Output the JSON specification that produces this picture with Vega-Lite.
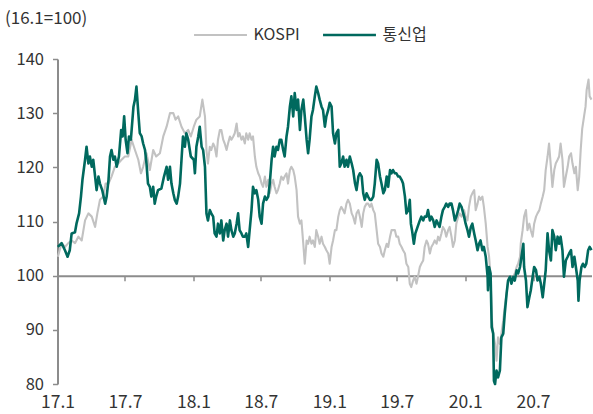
{
  "$schema": "https://vega.github.io/schema/vega-lite/v6.json",
  "width": 534,
  "height": 325,
  "autosize": {"type": "none"},
  "padding": {"left": 57.5, "top": 59, "right": 1.5, "bottom": 30},
  "background": "white",
  "config": {
    "view": {"stroke": null},
    "font": "Noto Sans CJK KR",
    "axis": {"grid": false, "labelFont": "Noto Sans CJK KR", "titleFont": "Noto Sans CJK KR"},
    "legend": {"labelFont": "Noto Sans CJK KR"}
  },
  "data": {
    "values": [
      {"d":"2017-01-02","s":"KOSPI","v":103.5},{"d":"2017-01-12","s":"KOSPI","v":106},{"d":"2017-01-21","s":"KOSPI","v":105.3},{"d":"2017-01-30","s":"KOSPI","v":106},{"d":"2017-02-08","s":"KOSPI","v":106.5},{"d":"2017-02-17","s":"KOSPI","v":106},{"d":"2017-02-26","s":"KOSPI","v":107.2},{"d":"2017-03-07","s":"KOSPI","v":106.5},{"d":"2017-03-16","s":"KOSPI","v":110.2},{"d":"2017-03-25","s":"KOSPI","v":111.5},{"d":"2017-04-03","s":"KOSPI","v":110.9},{"d":"2017-04-12","s":"KOSPI","v":109},{"d":"2017-04-18","s":"KOSPI","v":111.5},{"d":"2017-04-25","s":"KOSPI","v":114},{"d":"2017-05-04","s":"KOSPI","v":114.6},{"d":"2017-05-10","s":"KOSPI","v":117},{"d":"2017-05-18","s":"KOSPI","v":117},{"d":"2017-05-26","s":"KOSPI","v":118.3},{"d":"2017-06-04","s":"KOSPI","v":120.1},{"d":"2017-06-13","s":"KOSPI","v":120.7},{"d":"2017-06-22","s":"KOSPI","v":121.4},{"d":"2017-07-01","s":"KOSPI","v":122},{"d":"2017-07-10","s":"KOSPI","v":122},{"d":"2017-07-19","s":"KOSPI","v":125.1},{"d":"2017-07-28","s":"KOSPI","v":123.2},{"d":"2017-08-06","s":"KOSPI","v":121.4},{"d":"2017-08-13","s":"KOSPI","v":118.9},{"d":"2017-08-19","s":"KOSPI","v":120.1},{"d":"2017-08-28","s":"KOSPI","v":122.6},{"d":"2017-09-06","s":"KOSPI","v":119.5},{"d":"2017-09-15","s":"KOSPI","v":123.2},{"d":"2017-09-23","s":"KOSPI","v":122},{"d":"2017-10-03","s":"KOSPI","v":122.6},{"d":"2017-10-12","s":"KOSPI","v":125.7},{"d":"2017-10-21","s":"KOSPI","v":127.5},{"d":"2017-10-30","s":"KOSPI","v":130},{"d":"2017-11-08","s":"KOSPI","v":130},{"d":"2017-11-14","s":"KOSPI","v":128.8},{"d":"2017-11-21","s":"KOSPI","v":129.4},{"d":"2017-11-30","s":"KOSPI","v":127.5},{"d":"2017-12-09","s":"KOSPI","v":126.3},{"d":"2017-12-18","s":"KOSPI","v":126.9},{"d":"2017-12-25","s":"KOSPI","v":125.7},
      {"d":"2018-01-02","s":"KOSPI","v":127.5},{"d":"2018-01-09","s":"KOSPI","v":128.8},{"d":"2018-01-18","s":"KOSPI","v":129.4},{"d":"2018-01-25","s":"KOSPI","v":132.5},{"d":"2018-02-01","s":"KOSPI","v":129.4},{"d":"2018-02-05","s":"KOSPI","v":123.2},{"d":"2018-02-09","s":"KOSPI","v":120.7},{"d":"2018-02-14","s":"KOSPI","v":123.8},{"d":"2018-02-18","s":"KOSPI","v":123.2},{"d":"2018-02-23","s":"KOSPI","v":124.4},{"d":"2018-02-27","s":"KOSPI","v":123.8},{"d":"2018-03-04","s":"KOSPI","v":122},{"d":"2018-03-08","s":"KOSPI","v":125.1},{"d":"2018-03-13","s":"KOSPI","v":126.9},{"d":"2018-03-17","s":"KOSPI","v":126.9},{"d":"2018-03-22","s":"KOSPI","v":125.1},{"d":"2018-03-26","s":"KOSPI","v":124.4},{"d":"2018-03-31","s":"KOSPI","v":123.2},{"d":"2018-04-04","s":"KOSPI","v":124.4},{"d":"2018-04-09","s":"KOSPI","v":125.7},{"d":"2018-04-13","s":"KOSPI","v":125.1},{"d":"2018-04-18","s":"KOSPI","v":125.7},{"d":"2018-04-22","s":"KOSPI","v":126.3},{"d":"2018-04-27","s":"KOSPI","v":128.1},{"d":"2018-05-01","s":"KOSPI","v":125.7},{"d":"2018-05-05","s":"KOSPI","v":126.3},{"d":"2018-05-10","s":"KOSPI","v":125.1},{"d":"2018-05-14","s":"KOSPI","v":125.7},{"d":"2018-05-19","s":"KOSPI","v":124.4},{"d":"2018-05-23","s":"KOSPI","v":126.3},{"d":"2018-05-28","s":"KOSPI","v":125.1},{"d":"2018-06-01","s":"KOSPI","v":126.3},{"d":"2018-06-06","s":"KOSPI","v":125.1},{"d":"2018-06-10","s":"KOSPI","v":125.7},{"d":"2018-06-15","s":"KOSPI","v":122},{"d":"2018-06-19","s":"KOSPI","v":120.1},{"d":"2018-06-24","s":"KOSPI","v":118.9},{"d":"2018-06-28","s":"KOSPI","v":118.3},{"d":"2018-07-03","s":"KOSPI","v":117},{"d":"2018-07-07","s":"KOSPI","v":116.4},{"d":"2018-07-12","s":"KOSPI","v":118.3},{"d":"2018-07-16","s":"KOSPI","v":116.4},{"d":"2018-07-21","s":"KOSPI","v":117.7},{"d":"2018-07-25","s":"KOSPI","v":115.2},{"d":"2018-07-30","s":"KOSPI","v":117},{"d":"2018-08-03","s":"KOSPI","v":117.7},{"d":"2018-08-07","s":"KOSPI","v":116.4},{"d":"2018-08-12","s":"KOSPI","v":115.2},{"d":"2018-08-16","s":"KOSPI","v":115.8},{"d":"2018-08-21","s":"KOSPI","v":117},{"d":"2018-08-25","s":"KOSPI","v":118.3},{"d":"2018-08-30","s":"KOSPI","v":117.7},{"d":"2018-09-03","s":"KOSPI","v":118.3},{"d":"2018-09-08","s":"KOSPI","v":118.9},{"d":"2018-09-12","s":"KOSPI","v":117},{"d":"2018-09-17","s":"KOSPI","v":119.5},{"d":"2018-09-21","s":"KOSPI","v":120.1},{"d":"2018-09-26","s":"KOSPI","v":119.5},{"d":"2018-09-30","s":"KOSPI","v":118.3},{"d":"2018-10-05","s":"KOSPI","v":115.8},{"d":"2018-10-09","s":"KOSPI","v":110.9},{"d":"2018-10-14","s":"KOSPI","v":109.6},{"d":"2018-10-18","s":"KOSPI","v":110.2},{"d":"2018-10-23","s":"KOSPI","v":105.9},{"d":"2018-10-27","s":"KOSPI","v":102.2},{"d":"2018-11-01","s":"KOSPI","v":106.5},{"d":"2018-11-05","s":"KOSPI","v":105.9},{"d":"2018-11-09","s":"KOSPI","v":107.2},{"d":"2018-11-14","s":"KOSPI","v":105.9},{"d":"2018-11-18","s":"KOSPI","v":106.5},{"d":"2018-11-23","s":"KOSPI","v":105.3},{"d":"2018-11-27","s":"KOSPI","v":108.4},{"d":"2018-12-02","s":"KOSPI","v":107.2},{"d":"2018-12-06","s":"KOSPI","v":105.9},{"d":"2018-12-11","s":"KOSPI","v":107.2},{"d":"2018-12-15","s":"KOSPI","v":105.9},{"d":"2018-12-20","s":"KOSPI","v":105.3},{"d":"2018-12-24","s":"KOSPI","v":104.7},
      {"d":"2018-12-29","s":"KOSPI","v":104.1},{"d":"2019-01-02","s":"KOSPI","v":102.2},{"d":"2019-01-07","s":"KOSPI","v":105.3},{"d":"2019-01-11","s":"KOSPI","v":106.5},{"d":"2019-01-16","s":"KOSPI","v":108.4},{"d":"2019-01-20","s":"KOSPI","v":108.4},{"d":"2019-01-25","s":"KOSPI","v":110.9},{"d":"2019-01-29","s":"KOSPI","v":112.1},{"d":"2019-02-02","s":"KOSPI","v":112.7},{"d":"2019-02-07","s":"KOSPI","v":112.1},{"d":"2019-02-11","s":"KOSPI","v":111.5},{"d":"2019-02-16","s":"KOSPI","v":113.3},{"d":"2019-02-20","s":"KOSPI","v":114},{"d":"2019-02-25","s":"KOSPI","v":113.3},{"d":"2019-03-02","s":"KOSPI","v":111.5},{"d":"2019-03-06","s":"KOSPI","v":110.9},{"d":"2019-03-11","s":"KOSPI","v":109.6},{"d":"2019-03-15","s":"KOSPI","v":111.5},{"d":"2019-03-20","s":"KOSPI","v":112.1},{"d":"2019-03-24","s":"KOSPI","v":110.9},{"d":"2019-03-29","s":"KOSPI","v":109},{"d":"2019-04-02","s":"KOSPI","v":111.5},{"d":"2019-04-06","s":"KOSPI","v":112.7},{"d":"2019-04-11","s":"KOSPI","v":113.3},{"d":"2019-04-15","s":"KOSPI","v":113.3},{"d":"2019-04-20","s":"KOSPI","v":112.7},{"d":"2019-04-24","s":"KOSPI","v":113.3},{"d":"2019-04-29","s":"KOSPI","v":112.1},{"d":"2019-05-03","s":"KOSPI","v":111.5},{"d":"2019-05-08","s":"KOSPI","v":108.4},{"d":"2019-05-12","s":"KOSPI","v":105.9},{"d":"2019-05-17","s":"KOSPI","v":105.3},{"d":"2019-05-21","s":"KOSPI","v":104.1},{"d":"2019-05-26","s":"KOSPI","v":103.5},{"d":"2019-05-30","s":"KOSPI","v":104.7},{"d":"2019-06-04","s":"KOSPI","v":105.9},{"d":"2019-06-08","s":"KOSPI","v":105.3},{"d":"2019-06-13","s":"KOSPI","v":107.2},{"d":"2019-06-17","s":"KOSPI","v":108.4},{"d":"2019-06-21","s":"KOSPI","v":108.4},{"d":"2019-06-26","s":"KOSPI","v":108.4},{"d":"2019-06-30","s":"KOSPI","v":107.2},{"d":"2019-07-05","s":"KOSPI","v":107.2},{"d":"2019-07-09","s":"KOSPI","v":105.9},{"d":"2019-07-14","s":"KOSPI","v":105.3},{"d":"2019-07-18","s":"KOSPI","v":104.7},{"d":"2019-07-23","s":"KOSPI","v":104.1},{"d":"2019-07-27","s":"KOSPI","v":102.2},{"d":"2019-08-01","s":"KOSPI","v":101.6},{"d":"2019-08-05","s":"KOSPI","v":98.5},{"d":"2019-08-09","s":"KOSPI","v":97.9},{"d":"2019-08-14","s":"KOSPI","v":99.1},{"d":"2019-08-18","s":"KOSPI","v":99.8},{"d":"2019-08-23","s":"KOSPI","v":98.5},{"d":"2019-08-27","s":"KOSPI","v":99.8},{"d":"2019-09-01","s":"KOSPI","v":101.6},{"d":"2019-09-05","s":"KOSPI","v":102.2},{"d":"2019-09-10","s":"KOSPI","v":102.8},{"d":"2019-09-14","s":"KOSPI","v":105.3},{"d":"2019-09-19","s":"KOSPI","v":106.5},{"d":"2019-09-23","s":"KOSPI","v":105.9},{"d":"2019-09-28","s":"KOSPI","v":104.1},{"d":"2019-10-02","s":"KOSPI","v":105.3},{"d":"2019-10-07","s":"KOSPI","v":105.9},{"d":"2019-10-11","s":"KOSPI","v":106.5},{"d":"2019-10-16","s":"KOSPI","v":105.9},{"d":"2019-10-20","s":"KOSPI","v":107.2},{"d":"2019-10-24","s":"KOSPI","v":106.5},{"d":"2019-10-29","s":"KOSPI","v":107.8},{"d":"2019-11-02","s":"KOSPI","v":109},{"d":"2019-11-07","s":"KOSPI","v":108.4},{"d":"2019-11-11","s":"KOSPI","v":107.2},{"d":"2019-11-16","s":"KOSPI","v":108.4},{"d":"2019-11-20","s":"KOSPI","v":109},{"d":"2019-11-25","s":"KOSPI","v":107.2},{"d":"2019-11-29","s":"KOSPI","v":105.3},{"d":"2019-12-04","s":"KOSPI","v":106.5},{"d":"2019-12-08","s":"KOSPI","v":109.6},{"d":"2019-12-13","s":"KOSPI","v":110.9},{"d":"2019-12-17","s":"KOSPI","v":111.5},{"d":"2019-12-22","s":"KOSPI","v":110.9},
      {"d":"2019-12-29","s":"KOSPI","v":112.1},{"d":"2020-01-02","s":"KOSPI","v":110.9},{"d":"2020-01-07","s":"KOSPI","v":110.2},{"d":"2020-01-11","s":"KOSPI","v":112.7},{"d":"2020-01-16","s":"KOSPI","v":114.6},{"d":"2020-01-20","s":"KOSPI","v":115.2},{"d":"2020-01-25","s":"KOSPI","v":115.8},{"d":"2020-01-29","s":"KOSPI","v":112.1},{"d":"2020-02-03","s":"KOSPI","v":113.3},{"d":"2020-02-07","s":"KOSPI","v":114.6},{"d":"2020-02-11","s":"KOSPI","v":114},{"d":"2020-02-16","s":"KOSPI","v":114.6},{"d":"2020-02-20","s":"KOSPI","v":112.7},{"d":"2020-02-25","s":"KOSPI","v":109.6},{"d":"2020-03-01","s":"KOSPI","v":105.3},{"d":"2020-03-05","s":"KOSPI","v":103.5},{"d":"2020-03-09","s":"KOSPI","v":99.8},{"d":"2020-03-12","s":"KOSPI","v":92.3},{"d":"2020-03-16","s":"KOSPI","v":89.3},{"d":"2020-03-21","s":"KOSPI","v":87.4},{"d":"2020-03-25","s":"KOSPI","v":84.3},{"d":"2020-03-29","s":"KOSPI","v":88.6},{"d":"2020-04-03","s":"KOSPI","v":87.4},{"d":"2020-04-07","s":"KOSPI","v":89.3},{"d":"2020-04-12","s":"KOSPI","v":91.7},{"d":"2020-04-16","s":"KOSPI","v":94.2},{"d":"2020-04-21","s":"KOSPI","v":96.7},{"d":"2020-04-25","s":"KOSPI","v":99.1},{"d":"2020-04-30","s":"KOSPI","v":99.8},{"d":"2020-05-04","s":"KOSPI","v":99.1},{"d":"2020-05-09","s":"KOSPI","v":99.8},{"d":"2020-05-13","s":"KOSPI","v":100.4},{"d":"2020-05-18","s":"KOSPI","v":101.6},{"d":"2020-05-22","s":"KOSPI","v":102.2},{"d":"2020-05-27","s":"KOSPI","v":103.5},{"d":"2020-05-29","s":"KOSPI","v":105.9},{"d":"2020-06-03","s":"KOSPI","v":108.4},{"d":"2020-06-07","s":"KOSPI","v":110.9},{"d":"2020-06-12","s":"KOSPI","v":112.1},{"d":"2020-06-16","s":"KOSPI","v":108.4},{"d":"2020-06-21","s":"KOSPI","v":109.6},{"d":"2020-06-25","s":"KOSPI","v":108.4},{"d":"2020-06-30","s":"KOSPI","v":107.2},{"d":"2020-07-04","s":"KOSPI","v":109.6},{"d":"2020-07-09","s":"KOSPI","v":110.9},{"d":"2020-07-13","s":"KOSPI","v":111.5},{"d":"2020-07-18","s":"KOSPI","v":112.1},{"d":"2020-07-22","s":"KOSPI","v":113.3},{"d":"2020-07-27","s":"KOSPI","v":114.6},{"d":"2020-07-31","s":"KOSPI","v":115.8},{"d":"2020-08-04","s":"KOSPI","v":119.5},{"d":"2020-08-09","s":"KOSPI","v":122},{"d":"2020-08-13","s":"KOSPI","v":124.4},{"d":"2020-08-18","s":"KOSPI","v":120.1},{"d":"2020-08-22","s":"KOSPI","v":116.4},{"d":"2020-08-27","s":"KOSPI","v":119.5},{"d":"2020-08-31","s":"KOSPI","v":120.7},{"d":"2020-09-05","s":"KOSPI","v":121.4},{"d":"2020-09-09","s":"KOSPI","v":122},{"d":"2020-09-13","s":"KOSPI","v":124.4},{"d":"2020-09-18","s":"KOSPI","v":121.4},{"d":"2020-09-22","s":"KOSPI","v":116.4},{"d":"2020-09-27","s":"KOSPI","v":118.3},{"d":"2020-10-02","s":"KOSPI","v":120.1},{"d":"2020-10-06","s":"KOSPI","v":122},{"d":"2020-10-11","s":"KOSPI","v":122.6},{"d":"2020-10-15","s":"KOSPI","v":120.7},{"d":"2020-10-20","s":"KOSPI","v":118.9},{"d":"2020-10-24","s":"KOSPI","v":120.1},{"d":"2020-10-29","s":"KOSPI","v":115.8},{"d":"2020-11-02","s":"KOSPI","v":118.3},{"d":"2020-11-06","s":"KOSPI","v":123.2},{"d":"2020-11-10","s":"KOSPI","v":127.1},{"d":"2020-11-15","s":"KOSPI","v":129.4},{"d":"2020-11-19","s":"KOSPI","v":131.2},{"d":"2020-11-22","s":"KOSPI","v":134.3},{"d":"2020-11-27","s":"KOSPI","v":136.2},{"d":"2020-11-30","s":"KOSPI","v":133.1},{"d":"2020-12-05","s":"KOSPI","v":132.5},
      {"d":"2017-01-02","s":"통신업","v":105.3},{"d":"2017-01-12","s":"통신업","v":106},{"d":"2017-01-21","s":"통신업","v":104.7},{"d":"2017-01-28","s":"통신업","v":103.5},{"d":"2017-02-03","s":"통신업","v":104.7},{"d":"2017-02-08","s":"통신업","v":107.8},{"d":"2017-02-17","s":"통신업","v":108},{"d":"2017-02-21","s":"통신업","v":109.6},{"d":"2017-02-28","s":"통신업","v":111.5},{"d":"2017-03-05","s":"통신업","v":114.6},{"d":"2017-03-09","s":"통신업","v":117.7},{"d":"2017-03-16","s":"통신업","v":121.4},{"d":"2017-03-20","s":"통신업","v":123.8},{"d":"2017-03-25","s":"통신업","v":120.7},{"d":"2017-03-29","s":"통신업","v":122},{"d":"2017-04-03","s":"통신업","v":120.1},{"d":"2017-04-07","s":"통신업","v":121.4},{"d":"2017-04-12","s":"통신업","v":118.3},{"d":"2017-04-16","s":"통신업","v":115.8},{"d":"2017-04-21","s":"통신업","v":118.3},{"d":"2017-04-25","s":"통신업","v":117},{"d":"2017-05-01","s":"통신업","v":115.8},{"d":"2017-05-09","s":"통신업","v":113.3},{"d":"2017-05-13","s":"통신업","v":114.6},{"d":"2017-05-18","s":"통신업","v":117.7},{"d":"2017-05-22","s":"통신업","v":122},{"d":"2017-05-26","s":"통신업","v":123.2},{"d":"2017-05-31","s":"통신업","v":121.4},{"d":"2017-06-04","s":"통신업","v":122},{"d":"2017-06-09","s":"통신업","v":120.1},{"d":"2017-06-15","s":"통신업","v":122},{"d":"2017-06-21","s":"통신업","v":126.9},{"d":"2017-06-25","s":"통신업","v":125.7},{"d":"2017-06-29","s":"통신업","v":129.4},{"d":"2017-07-03","s":"통신업","v":125.1},{"d":"2017-07-08","s":"통신업","v":122.6},{"d":"2017-07-12","s":"통신업","v":125.7},{"d":"2017-07-17","s":"통신업","v":125.1},{"d":"2017-07-24","s":"통신업","v":131.2},{"d":"2017-07-28","s":"통신업","v":132.5},{"d":"2017-08-01","s":"통신업","v":134.9},{"d":"2017-08-06","s":"통신업","v":130},{"d":"2017-08-10","s":"통신업","v":126.3},{"d":"2017-08-15","s":"통신업","v":125.7},{"d":"2017-08-19","s":"통신업","v":124.4},{"d":"2017-08-24","s":"통신업","v":123.2},{"d":"2017-08-28","s":"통신업","v":120.7},{"d":"2017-09-01","s":"통신업","v":117},{"d":"2017-09-06","s":"통신업","v":116.4},{"d":"2017-09-10","s":"통신업","v":114.6},{"d":"2017-09-15","s":"통신업","v":116.4},{"d":"2017-09-19","s":"통신업","v":113.3},{"d":"2017-09-23","s":"통신업","v":114.6},{"d":"2017-09-28","s":"통신업","v":115.8},{"d":"2017-10-07","s":"통신업","v":116.1},{"d":"2017-10-14","s":"통신업","v":118.3},{"d":"2017-10-21","s":"통신업","v":120.1},{"d":"2017-10-25","s":"통신업","v":117.7},{"d":"2017-10-30","s":"통신업","v":120.1},{"d":"2017-11-03","s":"통신업","v":117},{"d":"2017-11-08","s":"통신업","v":115.2},{"d":"2017-11-12","s":"통신업","v":114},{"d":"2017-11-17","s":"통신업","v":113.3},{"d":"2017-11-21","s":"통신업","v":114.6},{"d":"2017-11-26","s":"통신업","v":117},{"d":"2017-11-30","s":"통신업","v":121.4},{"d":"2017-12-04","s":"통신업","v":125.7},{"d":"2017-12-09","s":"통신업","v":123.8},{"d":"2017-12-13","s":"통신업","v":126.3},{"d":"2017-12-18","s":"통신업","v":125.1},{"d":"2017-12-25","s":"통신업","v":122},
      {"d":"2018-01-02","s":"통신업","v":121.4},{"d":"2018-01-05","s":"통신업","v":118.9},{"d":"2018-01-09","s":"통신업","v":123.8},{"d":"2018-01-14","s":"통신업","v":125.7},{"d":"2018-01-18","s":"통신업","v":127.5},{"d":"2018-01-23","s":"통신업","v":123.8},{"d":"2018-01-27","s":"통신업","v":123.2},{"d":"2018-02-01","s":"통신업","v":120.1},{"d":"2018-02-05","s":"통신업","v":111.5},{"d":"2018-02-09","s":"통신업","v":110.2},{"d":"2018-02-14","s":"통신업","v":112.1},{"d":"2018-02-18","s":"통신업","v":111.5},{"d":"2018-02-23","s":"통신업","v":110.9},{"d":"2018-02-27","s":"통신업","v":107.8},{"d":"2018-03-04","s":"통신업","v":107.2},{"d":"2018-03-08","s":"통신업","v":109.6},{"d":"2018-03-13","s":"통신업","v":107.8},{"d":"2018-03-17","s":"통신업","v":110.2},{"d":"2018-03-22","s":"통신업","v":106.5},{"d":"2018-03-26","s":"통신업","v":108.4},{"d":"2018-03-31","s":"통신업","v":109.6},{"d":"2018-04-04","s":"통신업","v":107.2},{"d":"2018-04-09","s":"통신업","v":110.2},{"d":"2018-04-13","s":"통신업","v":108.4},{"d":"2018-04-18","s":"통신업","v":107.2},{"d":"2018-04-22","s":"통신업","v":107.8},{"d":"2018-04-27","s":"통신업","v":109.6},{"d":"2018-05-01","s":"통신업","v":111.5},{"d":"2018-05-05","s":"통신업","v":108.4},{"d":"2018-05-10","s":"통신업","v":107.8},{"d":"2018-05-14","s":"통신업","v":107.2},{"d":"2018-05-19","s":"통신업","v":107.2},{"d":"2018-05-23","s":"통신업","v":107.8},{"d":"2018-05-28","s":"통신업","v":105.3},{"d":"2018-06-01","s":"통신업","v":108.4},{"d":"2018-06-06","s":"통신업","v":112.1},{"d":"2018-06-10","s":"통신업","v":116.4},{"d":"2018-06-15","s":"통신업","v":115.2},{"d":"2018-06-19","s":"통신업","v":115.8},{"d":"2018-06-24","s":"통신업","v":114},{"d":"2018-06-28","s":"통신업","v":110.9},{"d":"2018-07-03","s":"통신업","v":109.6},{"d":"2018-07-07","s":"통신업","v":113.3},{"d":"2018-07-12","s":"통신업","v":114.6},{"d":"2018-07-16","s":"통신업","v":114},{"d":"2018-07-21","s":"통신업","v":114.6},{"d":"2018-07-25","s":"통신업","v":117},{"d":"2018-07-30","s":"통신업","v":121.4},{"d":"2018-08-03","s":"통신업","v":123.8},{"d":"2018-08-07","s":"통신업","v":122},{"d":"2018-08-12","s":"통신업","v":123.8},{"d":"2018-08-16","s":"통신업","v":123.2},{"d":"2018-08-21","s":"통신업","v":125.1},{"d":"2018-08-25","s":"통신업","v":125.1},{"d":"2018-08-30","s":"통신업","v":123.2},{"d":"2018-09-03","s":"통신업","v":122},{"d":"2018-09-08","s":"통신업","v":125.7},{"d":"2018-09-12","s":"통신업","v":127.5},{"d":"2018-09-17","s":"통신업","v":131.2},{"d":"2018-09-21","s":"통신업","v":133.1},{"d":"2018-09-26","s":"통신업","v":129.4},{"d":"2018-09-30","s":"통신업","v":133.7},{"d":"2018-10-05","s":"통신업","v":130.6},{"d":"2018-10-09","s":"통신업","v":132.5},{"d":"2018-10-14","s":"통신업","v":126.9},{"d":"2018-10-18","s":"통신업","v":130.6},{"d":"2018-10-23","s":"통신업","v":132.5},{"d":"2018-10-27","s":"통신업","v":129.4},{"d":"2018-11-01","s":"통신업","v":125.1},{"d":"2018-11-05","s":"통신업","v":122.6},{"d":"2018-11-09","s":"통신업","v":125.1},{"d":"2018-11-14","s":"통신업","v":129.4},{"d":"2018-11-18","s":"통신업","v":130.6},{"d":"2018-11-23","s":"통신업","v":133.1},{"d":"2018-11-27","s":"통신업","v":134.9},{"d":"2018-12-02","s":"통신업","v":133.7},{"d":"2018-12-06","s":"통신업","v":132.5},{"d":"2018-12-11","s":"통신업","v":131.2},{"d":"2018-12-15","s":"통신업","v":130.6},{"d":"2018-12-20","s":"통신업","v":127.5},{"d":"2018-12-24","s":"통신업","v":129.4},
      {"d":"2018-12-29","s":"통신업","v":130.6},{"d":"2019-01-02","s":"통신업","v":131.9},{"d":"2019-01-07","s":"통신업","v":131.2},{"d":"2019-01-11","s":"통신업","v":126.3},{"d":"2019-01-16","s":"통신업","v":124.4},{"d":"2019-01-20","s":"통신업","v":126.3},{"d":"2019-01-25","s":"통신업","v":126.9},{"d":"2019-01-29","s":"통신업","v":120.1},{"d":"2019-02-02","s":"통신업","v":120.7},{"d":"2019-02-07","s":"통신업","v":122},{"d":"2019-02-11","s":"통신업","v":120.1},{"d":"2019-02-16","s":"통신업","v":121.4},{"d":"2019-02-20","s":"통신업","v":120.1},{"d":"2019-02-25","s":"통신업","v":122},{"d":"2019-03-02","s":"통신업","v":120.7},{"d":"2019-03-06","s":"통신업","v":119.5},{"d":"2019-03-11","s":"통신업","v":117},{"d":"2019-03-15","s":"통신업","v":115.8},{"d":"2019-03-20","s":"통신업","v":118.3},{"d":"2019-03-24","s":"통신업","v":118.9},{"d":"2019-03-29","s":"통신업","v":118.3},{"d":"2019-04-02","s":"통신업","v":115.2},{"d":"2019-04-06","s":"통신업","v":114},{"d":"2019-04-11","s":"통신업","v":115.2},{"d":"2019-04-15","s":"통신업","v":114.6},{"d":"2019-04-20","s":"통신업","v":114},{"d":"2019-04-24","s":"통신업","v":114},{"d":"2019-04-29","s":"통신업","v":114.6},{"d":"2019-05-03","s":"통신업","v":117},{"d":"2019-05-08","s":"통신업","v":121.4},{"d":"2019-05-12","s":"통신업","v":120.7},{"d":"2019-05-17","s":"통신업","v":118.3},{"d":"2019-05-21","s":"통신업","v":117},{"d":"2019-05-26","s":"통신업","v":115.2},{"d":"2019-05-30","s":"통신업","v":115.8},{"d":"2019-06-04","s":"통신업","v":118.3},{"d":"2019-06-08","s":"통신업","v":116.4},{"d":"2019-06-13","s":"통신업","v":119.5},{"d":"2019-06-17","s":"통신업","v":118.9},{"d":"2019-06-21","s":"통신업","v":119.5},{"d":"2019-06-26","s":"통신업","v":118.9},{"d":"2019-06-30","s":"통신업","v":118.9},{"d":"2019-07-05","s":"통신업","v":118.3},{"d":"2019-07-09","s":"통신업","v":118.3},{"d":"2019-07-14","s":"통신업","v":117.7},{"d":"2019-07-18","s":"통신업","v":117},{"d":"2019-07-23","s":"통신업","v":114.6},{"d":"2019-07-27","s":"통신업","v":111.5},{"d":"2019-08-01","s":"통신업","v":112.1},{"d":"2019-08-05","s":"통신업","v":114},{"d":"2019-08-08","s":"통신업","v":109.6},{"d":"2019-08-11","s":"통신업","v":108.4},{"d":"2019-08-16","s":"통신업","v":105.9},{"d":"2019-08-20","s":"통신업","v":107.8},{"d":"2019-08-26","s":"통신업","v":109},{"d":"2019-09-01","s":"통신업","v":110.2},{"d":"2019-09-05","s":"통신업","v":110.9},{"d":"2019-09-10","s":"통신업","v":110.2},{"d":"2019-09-14","s":"통신업","v":110.9},{"d":"2019-09-19","s":"통신업","v":110.9},{"d":"2019-09-23","s":"통신업","v":112.1},{"d":"2019-09-28","s":"통신업","v":110.2},{"d":"2019-10-02","s":"통신업","v":110.9},{"d":"2019-10-07","s":"통신업","v":110.2},{"d":"2019-10-11","s":"통신업","v":109},{"d":"2019-10-16","s":"통신업","v":110.2},{"d":"2019-10-20","s":"통신업","v":109.6},{"d":"2019-10-24","s":"통신업","v":109},{"d":"2019-10-29","s":"통신업","v":110.9},{"d":"2019-11-02","s":"통신업","v":112.1},{"d":"2019-11-07","s":"통신업","v":112.7},{"d":"2019-11-11","s":"통신업","v":113.3},{"d":"2019-11-16","s":"통신업","v":112.7},{"d":"2019-11-20","s":"통신업","v":113.3},{"d":"2019-11-25","s":"통신업","v":113.3},{"d":"2019-11-29","s":"통신업","v":112.1},{"d":"2019-12-04","s":"통신업","v":110.2},{"d":"2019-12-08","s":"통신업","v":110.9},{"d":"2019-12-13","s":"통신업","v":112.1},{"d":"2019-12-17","s":"통신업","v":113.3},{"d":"2019-12-22","s":"통신업","v":112.7},
      {"d":"2019-12-29","s":"통신업","v":110.9},{"d":"2020-01-02","s":"통신업","v":109.6},{"d":"2020-01-07","s":"통신업","v":108.4},{"d":"2020-01-11","s":"통신업","v":107.2},{"d":"2020-01-16","s":"통신업","v":109},{"d":"2020-01-20","s":"통신업","v":109.6},{"d":"2020-01-25","s":"통신업","v":107.8},{"d":"2020-01-29","s":"통신업","v":106.5},{"d":"2020-02-03","s":"통신업","v":104.7},{"d":"2020-02-07","s":"통신업","v":105.9},{"d":"2020-02-11","s":"통신업","v":106.5},{"d":"2020-02-16","s":"통신업","v":104.7},{"d":"2020-02-20","s":"통신업","v":105.3},{"d":"2020-02-25","s":"통신업","v":103.5},{"d":"2020-03-01","s":"통신업","v":99.8},{"d":"2020-03-02","s":"통신업","v":97.3},{"d":"2020-03-05","s":"통신업","v":101.6},{"d":"2020-03-09","s":"통신업","v":100.4},{"d":"2020-03-12","s":"통신업","v":90.5},{"d":"2020-03-16","s":"통신업","v":89.3},{"d":"2020-03-18","s":"통신업","v":80.6},{"d":"2020-03-21","s":"통신업","v":80},{"d":"2020-03-25","s":"통신업","v":82.5},{"d":"2020-03-29","s":"통신업","v":81.2},{"d":"2020-04-03","s":"통신업","v":82.5},{"d":"2020-04-07","s":"통신업","v":88.6},{"d":"2020-04-12","s":"통신업","v":89.3},{"d":"2020-04-16","s":"통신업","v":93},{"d":"2020-04-21","s":"통신업","v":96.7},{"d":"2020-04-25","s":"통신업","v":99.1},{"d":"2020-04-30","s":"통신업","v":99.8},{"d":"2020-05-04","s":"통신업","v":98.5},{"d":"2020-05-09","s":"통신업","v":99.8},{"d":"2020-05-13","s":"통신업","v":99.1},{"d":"2020-05-18","s":"통신업","v":101},{"d":"2020-05-22","s":"통신업","v":100.4},{"d":"2020-05-27","s":"통신업","v":101.6},{"d":"2020-05-31","s":"통신업","v":103.5},{"d":"2020-06-05","s":"통신업","v":105.9},{"d":"2020-06-07","s":"통신업","v":101.6},{"d":"2020-06-12","s":"통신업","v":99.1},{"d":"2020-06-16","s":"통신업","v":94.2},{"d":"2020-06-21","s":"통신업","v":96},{"d":"2020-06-25","s":"통신업","v":97.3},{"d":"2020-06-30","s":"통신업","v":99.8},{"d":"2020-07-04","s":"통신업","v":101.6},{"d":"2020-07-09","s":"통신업","v":101},{"d":"2020-07-13","s":"통신업","v":99.1},{"d":"2020-07-18","s":"통신업","v":99.8},{"d":"2020-07-22","s":"통신업","v":98.5},{"d":"2020-07-27","s":"통신업","v":96},{"d":"2020-07-31","s":"통신업","v":98.5},{"d":"2020-08-04","s":"통신업","v":101},{"d":"2020-08-09","s":"통신업","v":107.8},{"d":"2020-08-13","s":"통신업","v":104.7},{"d":"2020-08-18","s":"통신업","v":102.8},{"d":"2020-08-22","s":"통신업","v":108.4},{"d":"2020-08-27","s":"통신업","v":107.2},{"d":"2020-08-31","s":"통신업","v":104.7},{"d":"2020-09-05","s":"통신업","v":107.2},{"d":"2020-09-09","s":"통신업","v":105.9},{"d":"2020-09-13","s":"통신업","v":107.2},{"d":"2020-09-18","s":"통신업","v":104.7},{"d":"2020-09-22","s":"통신업","v":99.8},{"d":"2020-09-27","s":"통신업","v":102.8},{"d":"2020-10-02","s":"통신업","v":103.5},{"d":"2020-10-06","s":"통신업","v":104.1},{"d":"2020-10-11","s":"통신업","v":104.7},{"d":"2020-10-15","s":"통신업","v":101.6},{"d":"2020-10-20","s":"통신업","v":103.5},{"d":"2020-10-24","s":"통신업","v":101.6},{"d":"2020-10-29","s":"통신업","v":99.1},{"d":"2020-10-31","s":"통신업","v":95.4},{"d":"2020-11-03","s":"통신업","v":99.1},{"d":"2020-11-08","s":"통신업","v":101.6},{"d":"2020-11-12","s":"통신업","v":102.2},{"d":"2020-11-17","s":"통신업","v":101.6},{"d":"2020-11-21","s":"통신업","v":102.2},{"d":"2020-11-26","s":"통신업","v":104.7},{"d":"2020-11-30","s":"통신업","v":105.3},{"d":"2020-12-05","s":"통신업","v":104.7}
    ]
  },
  "mark": {"type": "line", "strokeJoin": "round"},
  "encoding": {
    "x": {
      "field": "d",
      "type": "temporal",
      "scale": {"type": "utc", "domain": [{"year": 2017, "month": 1, "date": 1, "utc": true}, {"year": 2020, "month": 12, "date": 5, "utc": true}]},
      "axis": {
        "title": null,
        "values": [
          {"year": 2017, "month": 1, "date": 1, "utc": true},
          {"year": 2017, "month": 7, "date": 1, "utc": true},
          {"year": 2018, "month": 1, "date": 1, "utc": true},
          {"year": 2018, "month": 7, "date": 1, "utc": true},
          {"year": 2019, "month": 1, "date": 1, "utc": true},
          {"year": 2019, "month": 7, "date": 1, "utc": true},
          {"year": 2020, "month": 1, "date": 1, "utc": true},
          {"year": 2020, "month": 7, "date": 1, "utc": true}
        ],
        "format": "%y.%-m",
        "offset": -108.33,
        "domainColor": "#8c8c8c",
        "domainWidth": 2,
        "tickColor": "#8c8c8c",
        "tickSize": 5,
        "tickWidth": 1.5,
        "labelPadding": 113,
        "labelFontSize": 17.5,
        "labelColor": "#333333",
        "labelBound": false,
        "labelFlush": false,
        "labelOverlap": false,
        "zindex": 0
      }
    },
    "y": {
      "field": "v",
      "type": "quantitative",
      "scale": {"domain": [80, 140], "nice": false, "zero": false},
      "axis": {
        "values": [80, 90, 100, 110, 120, 130, 140],
        "title": "(16.1=100)",
        "titleAngle": 0,
        "titleAlign": "left",
        "titleBaseline": "middle",
        "titleX": -53,
        "titleY": -41,
        "titleFontSize": 17,
        "titleFontWeight": "normal",
        "titleColor": "#333333",
        "domainColor": "#8c8c8c",
        "domainWidth": 2,
        "tickColor": "#8c8c8c",
        "tickSize": 5,
        "tickWidth": 1.5,
        "labelPadding": 9,
        "labelFontSize": 16.5,
        "labelColor": "#333333"
      }
    },
    "color": {
      "field": "s",
      "type": "nominal",
      "scale": {"domain": ["KOSPI", "통신업"], "range": ["#c2c2c2", "#00695e"]},
      "legend": {
        "title": null,
        "orient": "none",
        "direction": "horizontal",
        "legendX": 135,
        "legendY": -52,
        "symbolType": "stroke",
        "symbolSize": 2800,
        "symbolStrokeWidth": 2,
        "labelFontSize": 16,
        "labelColor": "#333333",
        "labelOffset": 5,
        "columnPadding": 17
      }
    },
    "strokeWidth": {
      "field": "s",
      "type": "nominal",
      "scale": {"domain": ["KOSPI", "통신업"], "range": [2.1, 2.6]},
      "legend": null
    }
  }
}
